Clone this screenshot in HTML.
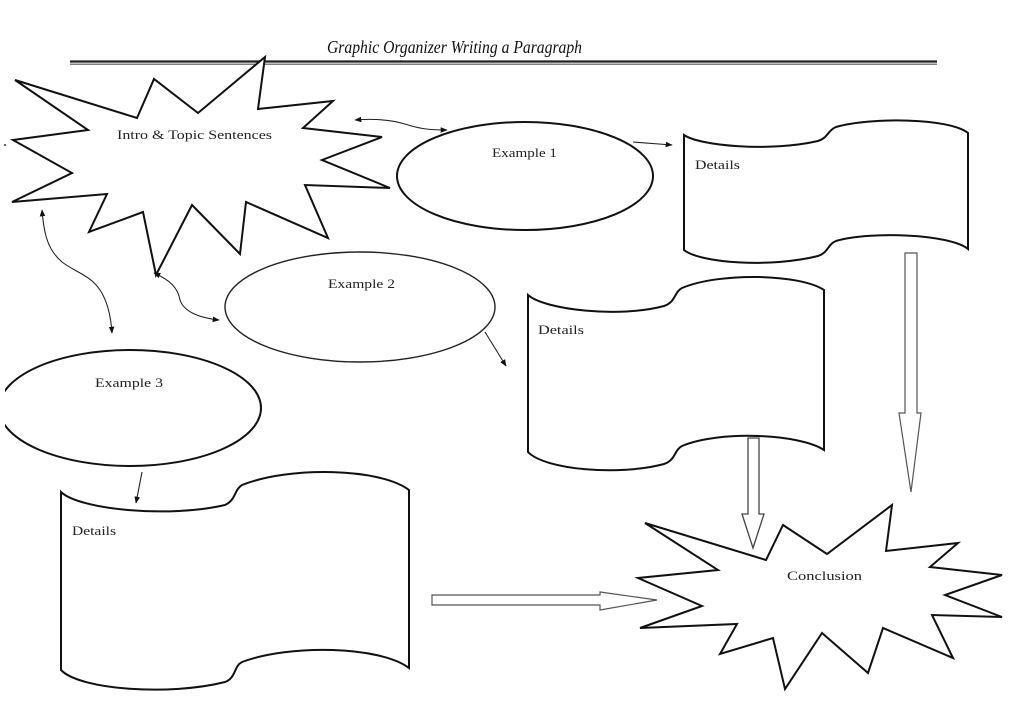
<!DOCTYPE html>
<html>
<head>
<meta charset="utf-8">
<style>
html,body{margin:0;padding:0;background:#fff;}
body{width:1024px;height:724px;overflow:hidden;}
svg{display:block;}
text{font-family:"Liberation Serif",serif;fill:#222;}
</style>
</head>
<body>
<svg width="1024" height="724" viewBox="0 0 1024 724" xmlns="http://www.w3.org/2000/svg">
<defs>
<marker id="ah" viewBox="0 0 10 10" refX="9" refY="5" markerWidth="7" markerHeight="7" orient="auto-start-reverse" markerUnits="userSpaceOnUse">
<path d="M0,1 L10,5 L0,9 Z" fill="#111"/>
</marker>
<clipPath id="c3"><rect x="5" y="0" width="1019" height="724"/></clipPath>
</defs>
<rect width="1024" height="724" fill="#fff"/>

<!-- Title -->
<text x="327" y="53" font-size="18" font-style="italic" textLength="255" lengthAdjust="spacingAndGlyphs" style="fill:#111">Graphic Organizer Writing a Paragraph</text>
<line x1="70" y1="61.5" x2="937" y2="61.5" stroke="#222" stroke-width="2.2"/>
<line x1="70" y1="64.2" x2="937" y2="64.2" stroke="#555" stroke-width="1.2"/>

<!-- Intro star -->
<polygon points="15,80 88,130 13,140 72,173 12,202 107,194 89,232 143,212 156,275 192,205 240,254 246,202 328,238 305,185 390,188 322,160 382,137 303,128 333,101 258,109 265,57 198,113 154,79 137,118" fill="#fff" stroke="#111" stroke-width="2" stroke-linejoin="miter"/>
<text x="117" y="139" font-size="13" textLength="155" lengthAdjust="spacingAndGlyphs">Intro &amp; Topic Sentences</text>
<circle cx="5" cy="145" r="1" fill="#333"/>

<!-- Example 1 -->
<ellipse cx="525" cy="176" rx="128" ry="54" fill="#fff" stroke="#111" stroke-width="2"/>
<text x="492" y="157" font-size="13" textLength="65" lengthAdjust="spacingAndGlyphs">Example 1</text>

<!-- Example 2 -->
<ellipse cx="360" cy="307" rx="135" ry="55" fill="#fff" stroke="#222" stroke-width="1.4"/>
<text x="328" y="288" font-size="13" textLength="67" lengthAdjust="spacingAndGlyphs">Example 2</text>

<!-- Example 3 -->
<ellipse cx="130" cy="408" rx="131" ry="58" fill="#fff" stroke="#111" stroke-width="2" clip-path="url(#c3)"/>
<text x="95" y="387" font-size="13" textLength="68" lengthAdjust="spacingAndGlyphs">Example 3</text>

<!-- Details 1 -->
<path d="M684,135 C700,146 770,152 818,141 C828,138 828,130 836,127 C870,117 950,118 968,133 L968,249 C950,234 870,231 836,241 C828,244 828,253 818,256 C770,268 700,263 684,250 Z" fill="#fff" stroke="#111" stroke-width="2"/>
<text x="695" y="169" font-size="13" textLength="45" lengthAdjust="spacingAndGlyphs">Details</text>

<!-- Details 2 -->
<path d="M528,295 C545,310 620,318 664,306 C676,302 674,292 682,288 C720,272 800,274 824,290 L824,450 C800,434 720,430 682,446 C674,450 676,460 664,464 C620,476 545,470 528,452 Z" fill="#fff" stroke="#111" stroke-width="2"/>
<text x="538" y="334" font-size="13" textLength="46" lengthAdjust="spacingAndGlyphs">Details</text>

<!-- Details 3 -->
<path d="M61,492 C80,510 170,518 225,505 C236,500 234,490 242,485 C290,466 380,468 409,490 L409,668 C380,646 290,644 242,662 C234,666 236,678 225,682 C170,696 80,690 61,670 Z" fill="#fff" stroke="#111" stroke-width="2"/>
<text x="72" y="535" font-size="13" textLength="44" lengthAdjust="spacingAndGlyphs">Details</text>

<!-- Conclusion star -->
<polygon points="645,523 718,570 638,578 702,606 640,628 737,624 720,654 773,638 785,689 822,633 868,673 883,628 953,658 932,615 1002,617 945,595 1002,575 930,567 958,543 886,551 892,505 827,554 783,525 766,560" fill="#fff" stroke="#111" stroke-width="2" stroke-linejoin="miter"/>
<text x="787" y="580" font-size="13" textLength="75" lengthAdjust="spacingAndGlyphs">Conclusion</text>

<!-- Block arrows -->
<path d="M905,253 L917,253 L917,413 L921,413 L911,492 L899,413 L905,413 Z" fill="#fff" stroke="#555" stroke-width="1.2"/>
<path d="M748,438 L759,438 L759,514 L764,514 L753,548 L742,514 L748,514 Z" fill="#fff" stroke="#444" stroke-width="1.3"/>
<path d="M432,595 L600,595 L600,592 L657,600 L600,610 L600,605 L432,605 Z" fill="#fff" stroke="#555" stroke-width="1.2"/>

<!-- Connectors -->
<g fill="none" stroke="#222" stroke-width="1.1">
<path d="M355,120 C380,118 395,121 405,124 C420,129 430,130 447,130" marker-start="url(#ah)" marker-end="url(#ah)"/>
<path d="M633,142 L672,145" marker-end="url(#ah)"/>
<path d="M42,210 C44,235 48,250 62,262 C75,272 90,275 100,290 C108,302 111,318 112,333" marker-start="url(#ah)" marker-end="url(#ah)"/>
<path d="M154,273 C170,280 178,288 180,300 C184,312 200,318 219,320" marker-start="url(#ah)" marker-end="url(#ah)"/>
<path d="M485,332 L506,366" marker-end="url(#ah)"/>
<path d="M142,472 L136,503" marker-end="url(#ah)"/>
</g>
</svg>
</body>
</html>
